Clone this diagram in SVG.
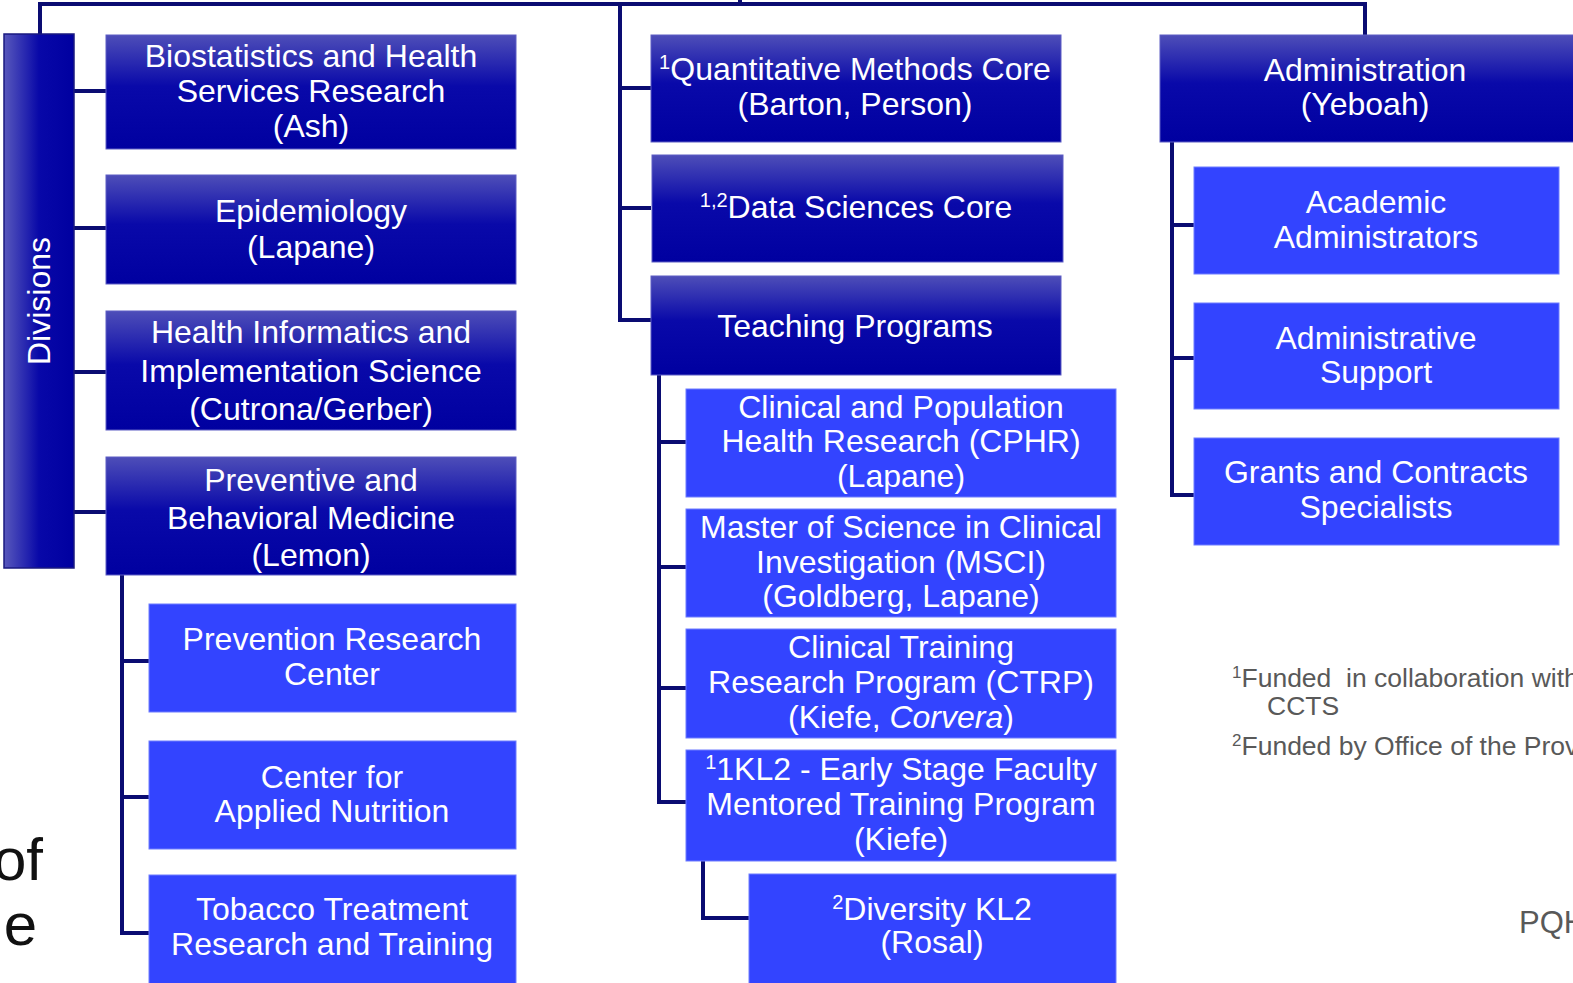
<svg xmlns="http://www.w3.org/2000/svg" width="1573" height="983" viewBox="0 0 1573 983">
<defs>
<linearGradient id="dk" x1="0" y1="0" x2="0" y2="1">
<stop offset="0" stop-color="#4E4EB8"/>
<stop offset="0.45" stop-color="#0909A9"/>
<stop offset="1" stop-color="#0000A0"/>
</linearGradient>
<linearGradient id="dv" x1="0" y1="0" x2="1" y2="0">
<stop offset="0" stop-color="#5858BC"/>
<stop offset="0.5" stop-color="#0808A8"/>
<stop offset="1" stop-color="#0000A0"/>
</linearGradient>
<style>
.dk{fill:url(#dk);stroke:#5C5CC4;stroke-width:1}
.lt{fill:#3344FF;stroke:#6E7DFF;stroke-width:1}
.t{font-family:"Liberation Sans",Arial,sans-serif;font-size:32px;fill:#FFFFFF;text-anchor:middle}
.sup{font-size:20px}
.fn{font-family:"Liberation Sans",Arial,sans-serif;font-size:26.5px;fill:#595959}
.fs{font-size:17px}
.big{font-family:"Liberation Sans",Arial,sans-serif;font-size:60px;fill:#111111;text-anchor:end}
.c{fill:none;stroke:#0A0C72;stroke-width:4}
</style>
</defs>
<rect width="1573" height="983" fill="#FFFFFF"/>

<g id="connectors">
<path class="c" d="M40,34 V4 H1365 V35"/>
<path class="c" d="M740,0 V4"/>
<path class="c" d="M620,4 V320 H651 M620,88 H651 M620,208 H651"/>
<path class="c" d="M74,91 H106 M74,228 H106 M74,372 H106 M74,512 H106"/>
<path class="c" d="M122,575 V933 H149 M122,661 H149 M122,797 H149"/>
<path class="c" d="M659,375 V802 H686 M659,442 H686 M659,567 H686 M659,688 H686"/>
<path class="c" d="M703,861 V918 H749"/>
<path class="c" d="M1172,142 V495 H1194 M1172,225 H1194 M1172,358 H1194"/>
</g>

<g id="divisions">
<rect x="4" y="34" width="70" height="534" fill="url(#dv)" stroke="#1A1A80" stroke-width="1.5"/>
<text class="t" transform="translate(50,301) rotate(-90)">Divisions</text>
</g>

<g id="biostat">
<rect class="dk" x="106" y="35" width="410" height="114"/>
<text class="t" x="311" y="67">Biostatistics and Health</text>
<text class="t" x="311" y="102">Services Research</text>
<text class="t" x="311" y="137">(Ash)</text>
</g>
<g id="epi">
<rect class="dk" x="106" y="175" width="410" height="109"/>
<text class="t" x="311" y="222">Epidemiology</text>
<text class="t" x="311" y="258">(Lapane)</text>
</g>
<g id="hiis">
<rect class="dk" x="106" y="311" width="410" height="119"/>
<text class="t" x="311" y="343">Health Informatics and</text>
<text class="t" x="311" y="382">Implementation Science</text>
<text class="t" x="311" y="420">(Cutrona/Gerber)</text>
</g>
<g id="pbm">
<rect class="dk" x="106" y="457" width="410" height="118"/>
<text class="t" x="311" y="491">Preventive and</text>
<text class="t" x="311" y="529">Behavioral Medicine</text>
<text class="t" x="311" y="566">(Lemon)</text>
</g>
<g id="prc">
<rect class="lt" x="149" y="604" width="367" height="108"/>
<text class="t" x="332" y="650">Prevention Research</text>
<text class="t" x="332" y="685">Center</text>
</g>
<g id="can">
<rect class="lt" x="149" y="741" width="367" height="108"/>
<text class="t" x="332" y="788">Center for</text>
<text class="t" x="332" y="822">Applied Nutrition</text>
</g>
<g id="tobacco">
<rect class="lt" x="149" y="875" width="367" height="112"/>
<text class="t" x="332" y="920">Tobacco Treatment</text>
<text class="t" x="332" y="955">Research and Training</text>
</g>

<g id="qmc">
<rect class="dk" x="651" y="35" width="410" height="107"/>
<text class="t" x="855" y="80"><tspan class="sup" dy="-11">1</tspan><tspan dy="11">Quantitative Methods Core</tspan></text>
<text class="t" x="855" y="115">(Barton, Person)</text>
</g>
<g id="dsc">
<rect class="dk" x="652" y="155" width="411" height="107"/>
<text class="t" x="856" y="218"><tspan class="sup" dy="-11">1,2</tspan><tspan dy="11">Data Sciences Core</tspan></text>
</g>
<g id="teaching">
<rect class="dk" x="651" y="276" width="410" height="99"/>
<text class="t" x="855" y="337">Teaching Programs</text>
</g>
<g id="cphr">
<rect class="lt" x="686" y="389" width="430" height="108"/>
<text class="t" x="901" y="418">Clinical and Population</text>
<text class="t" x="901" y="452">Health Research (CPHR)</text>
<text class="t" x="901" y="487">(Lapane)</text>
</g>
<g id="msci">
<rect class="lt" x="686" y="509" width="430" height="108"/>
<text class="t" x="901" y="538">Master of Science in Clinical</text>
<text class="t" x="901" y="573">Investigation (MSCI)</text>
<text class="t" x="901" y="607">(Goldberg, Lapane)</text>
</g>
<g id="ctrp">
<rect class="lt" x="686" y="629" width="430" height="109"/>
<text class="t" x="901" y="658">Clinical Training</text>
<text class="t" x="901" y="693">Research Program (CTRP)</text>
<text class="t" x="901" y="728">(Kiefe, <tspan font-style="italic">Corvera</tspan>)</text>
</g>
<g id="kl2">
<rect class="lt" x="686" y="750" width="430" height="111"/>
<text class="t" x="901" y="780"><tspan class="sup" dy="-11">1</tspan><tspan dy="11">1KL2 - Early Stage Faculty</tspan></text>
<text class="t" x="901" y="815">Mentored Training Program</text>
<text class="t" x="901" y="850">(Kiefe)</text>
</g>
<g id="diversity">
<rect class="lt" x="749" y="874" width="367" height="113"/>
<text class="t" x="932" y="920"><tspan class="sup" dy="-11">2</tspan><tspan dy="11">Diversity KL2</tspan></text>
<text class="t" x="932" y="953">(Rosal)</text>
</g>

<g id="admin">
<rect class="dk" x="1160" y="35" width="415" height="107"/>
<text class="t" x="1365" y="81">Administration</text>
<text class="t" x="1365" y="115">(Yeboah)</text>
</g>
<g id="academic">
<rect class="lt" x="1194" y="167" width="365" height="107"/>
<text class="t" x="1376" y="213">Academic</text>
<text class="t" x="1376" y="248">Administrators</text>
</g>
<g id="support">
<rect class="lt" x="1194" y="303" width="365" height="106"/>
<text class="t" x="1376" y="349">Administrative</text>
<text class="t" x="1376" y="383">Support</text>
</g>
<g id="grants">
<rect class="lt" x="1194" y="438" width="365" height="107"/>
<text class="t" x="1376" y="483">Grants and Contracts</text>
<text class="t" x="1376" y="518">Specialists</text>
</g>

<g id="notes">
<text class="fn" x="1232" y="687" xml:space="preserve"><tspan class="fs" dy="-9">1</tspan><tspan dy="9">Funded  in collaboration with</tspan></text>
<text class="fn" x="1267" y="715">CCTS</text>
<text class="fn" x="1232" y="755"><tspan class="fs" dy="-9">2</tspan><tspan dy="9">Funded by Office of the Provost</tspan></text>
<text class="fn" x="1519" y="933" style="font-size:31px">PQHS</text>
<text class="big" x="43" y="880">of</text>
<text class="big" x="37" y="945">e</text>
</g>
</svg>
